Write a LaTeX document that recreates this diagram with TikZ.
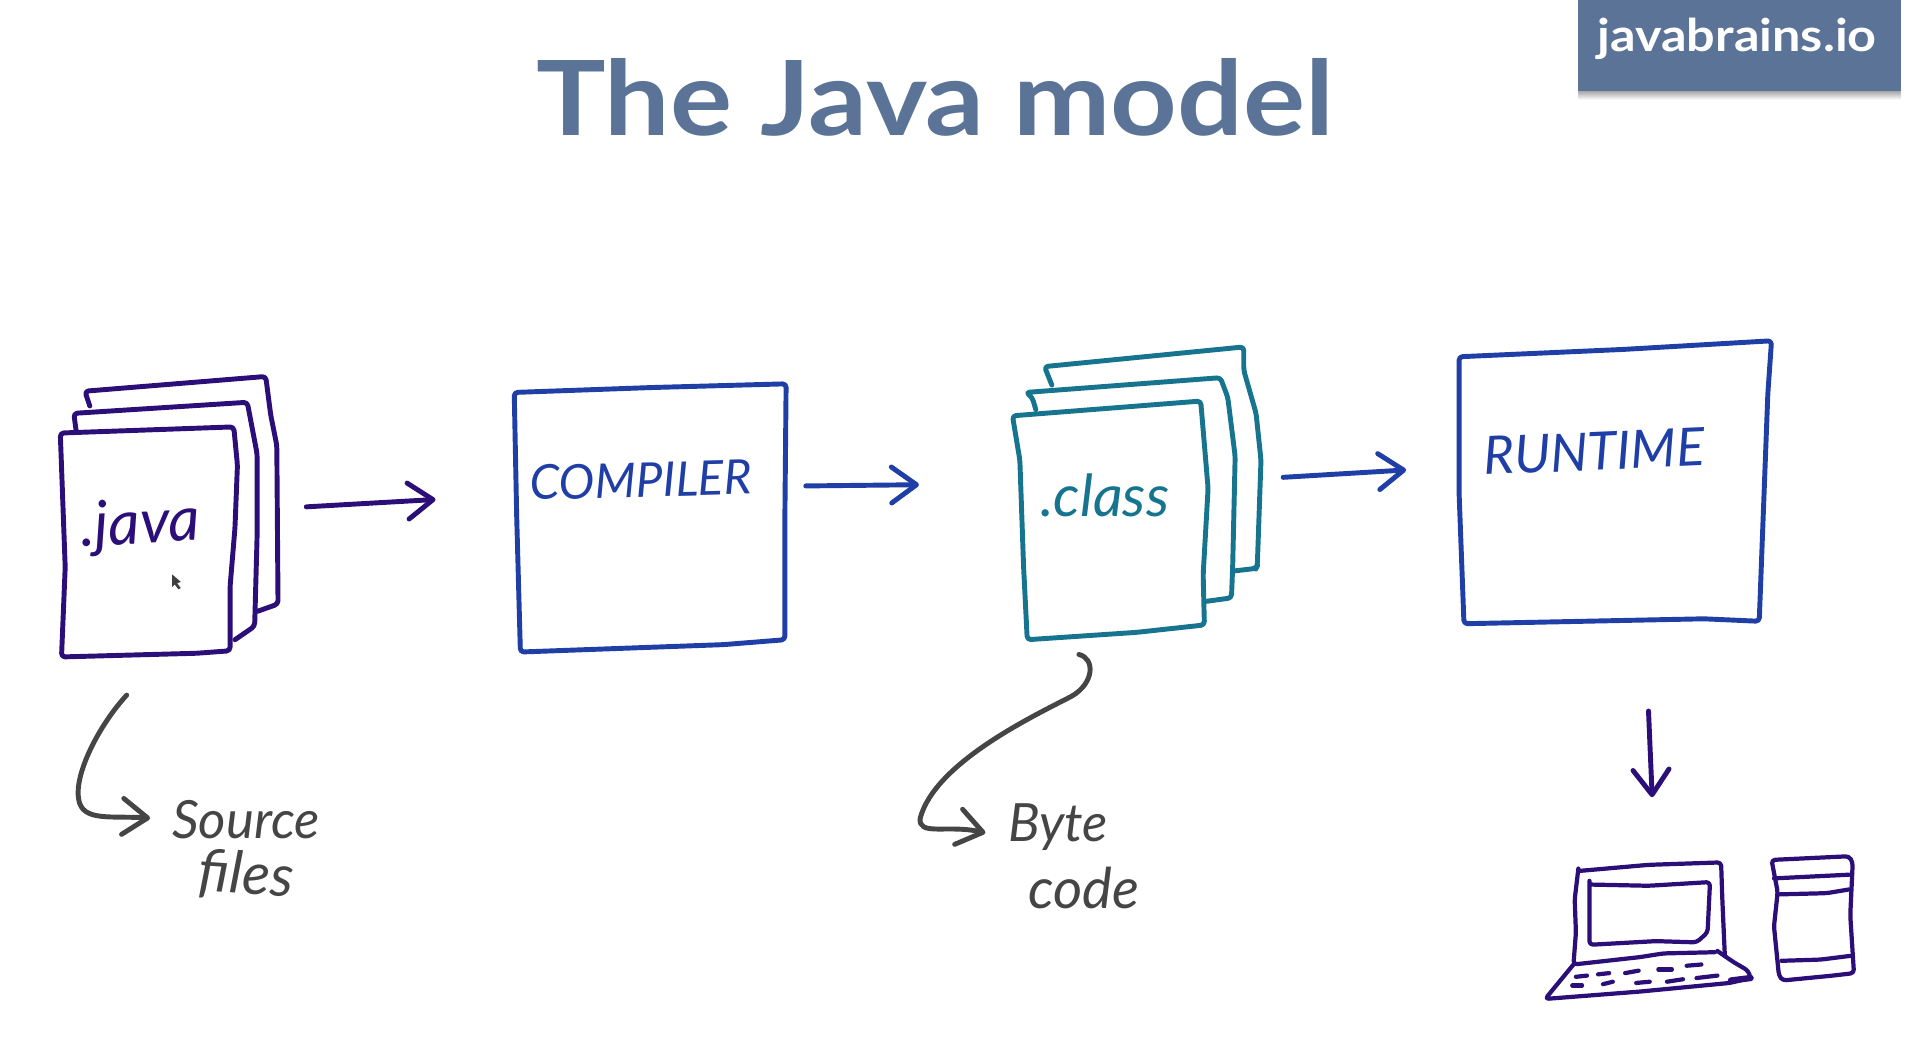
\documentclass[tikz,border=0pt]{standalone}
\usepackage{fontspec}
\setmainfont{Lato}
\newfontfamily\titlefont[FakeStretch=1.12]{Lato}
\usetikzlibrary{positioning,arrows.meta}
\definecolor{slate}{HTML}{5A7396}
\definecolor{inkpurple}{HTML}{2C0E78}
\definecolor{inkblue}{HTML}{1F3EA6}
\definecolor{inkteal}{HTML}{17748F}
\definecolor{inkgrey}{HTML}{454545}
\newcommand{\handfont}[1]{\fontsize{#1}{#1}\selectfont\itshape}
\tikzset{
  ink/.style={line width=1.4pt, line cap=round, line join=round, rounded corners=1pt},
  thin ink/.style={line width=1.2pt, line cap=round, line join=round, rounded corners=1pt},
  arrow ink/.style={ink, rounded corners=0pt, ->, >={Straight Barb[length=2.5mm,width=3.6mm,round]}},
  hand/.style={inner sep=0pt, align=center},
}
\begin{document}
\begin{tikzpicture}[x=0.0123cm, y=-0.0123cm]
\useasboundingbox (0,0) rectangle (1568,847);

% title and badge
\node[font=\titlefont\bfseries\fontsize{29.5}{29.5}\selectfont, text=slate, inner sep=0pt, anchor=base] (title) at (760,110) {The Java model};
\shade[top color=black!35, bottom color=white] (1283,74) rectangle (1545,81);
\fill[slate] (1283,0) rectangle (1545,74);
\node[font=\titlefont\bfseries\fontsize{12.8}{12.8}\selectfont, text=white, inner sep=0pt, anchor=base] (badge) at (1412,42) {javabrains.io};

% java sheets
\draw[ink, inkpurple] (49,352) -- (190,347) -- (193,378) -- (191,429) -- (187,477) -- (187,529) -- (160,531) -- (50,534) -- (53,461) -- cycle;
\draw[ink, inkpurple] (62,351) -- (60,336) -- (201,327) -- (209,369) -- (209,435) -- (207,509) -- (191,520);
\draw[ink, inkpurple] (73,330) -- (69,318) -- (216,306) -- (220,337) -- (225,362) -- (226,491) -- (209,497);
\node[hand, text=inkpurple, font=\handfont{17.5}, rotate=3] (java) at (114,428) {.java};
\fill[black!75] (140,467) -- (140,477) -- (142,475) -- (145,479) -- (147,478) -- (144,474) -- (147,473) -- cycle;

% compiler
\draw[ink, inkblue] (418,319) -- (530,315) -- (639,312) -- (638,420) -- (638,520) -- (588,524) -- (423,530) -- (420,420) -- cycle;
\node[hand, text=inkblue, font=\handfont{13.6}, rotate=1.5] (compiler) at (521,390) {COMPILER};

% class sheets
\draw[ink, inkteal] (823,338) -- (976,326) -- (982,397) -- (978,467) -- (979,508) -- (924,514) -- (835,520) -- (832,460) -- (829,374) -- cycle;
\draw[ink, inkteal] (842,333) -- (839,323) -- (834,319) -- (992,307) -- (998,323) -- (1004,371) -- (1002,460) -- (1001,486) -- (979,489);
\draw[ink, inkteal] (855,313) -- (849,298) -- (1011,282) -- (1011,301) -- (1021,336) -- (1025,374) -- (1022,460) -- (1021,462) -- (1004,464);
\node[hand, text=inkteal, font=\handfont{16.5}] (class) at (898,403) {.class};

% runtime
\draw[ink, inkblue] (1186,290) -- (1320,284) -- (1440,277) -- (1437,320) -- (1430,505) -- (1385,503) -- (1190,507) -- (1186,400) -- cycle;
\node[hand, text=inkblue, font=\handfont{15}, rotate=2.5] (runtime) at (1296,367) {RUNTIME};

% notes
\node[hand, text=inkgrey, font=\handfont{15}] (source) at (200,666) {Source};
\node[hand, text=inkgrey, font=\handfont{16.5}, rotate=-4] (files) at (200,712) {files};
\node[hand, text=inkgrey, font=\handfont{15}] (byte) at (860,672) {Byte};
\node[hand, text=inkgrey, font=\handfont{16}] (code) at (881,722) {code};

% arrow ends
\coordinate (javaout) at (249,412);
\coordinate (compilerin) at (354,406);
\coordinate (compilerout) at (655,395);
\coordinate (classin) at (747,394);
\coordinate (classout) at (1043,388);
\coordinate (runtimein) at (1143,382);
\coordinate (runtimeout) at (1340,578);
\coordinate (laptopin) at (1343,648);
\coordinate (sourcefrom) at (103,565);
\coordinate (sourceto) at (122,665);
\coordinate (bytefrom) at (877,532);
\coordinate (byteto) at (801,677);

\draw[arrow ink, inkpurple] (javaout) -- (compilerin);
\draw[arrow ink, inkblue] (compilerout) -- (classin);
\draw[arrow ink, inkblue] (classout) -- (runtimein);
\draw[arrow ink, inkpurple] (runtimeout) -- (laptopin);
\draw[arrow ink, inkgrey] (sourcefrom) .. controls (80,590) and (60,630) .. (64,650) .. controls (67,668) and (90,663) .. (sourceto);
\draw[arrow ink, inkgrey] (bytefrom) .. controls (890,535) and (890,555) .. (871,566) .. controls (840,582) and (760,620) .. (748,665) .. controls (746,680) and (770,670) .. (byteto);

% laptop
\draw[thin ink, inkpurple] (1283,706) -- (1280,731) -- (1281,758) -- (1279,784) -- (1333,778) -- (1352,775) -- (1394,774);
\draw[thin ink, inkpurple] (1283,708) -- (1340,703) -- (1399,701) -- (1400,731) -- (1402,776);
\draw[thin ink, inkpurple] (1292,716) -- (1292,768) -- (1346,765) -- (1379,766) -- (1388,758) -- (1390,717) -- (1340,720) -- (1292,719);
\draw[thin ink, inkpurple] (1279,784) -- (1256,812) -- (1333,806) -- (1406,799) -- (1423,795) -- (1421,789) -- (1409,782) -- (1396,773);
\draw[thin ink, inkpurple, line width=1.8pt] (1407,797) -- (1423,795);
\foreach \xa/\ya/\xb/\yb in {1281/794/1290/793, 1299/792/1308/791, 1321/791/1332/789, 1348/788/1359/788, 1371/785/1383/784,
    1278/801/1286/801, 1303/800/1311/798, 1330/799/1341/798, 1355/798/1368/796, 1379/795/1396/793}
  \draw[thin ink, inkpurple] (\xa,\ya) -- (\xb,\yb);

% tower
\draw[thin ink, inkpurple] (1440,699) -- (1503,696) -- (1506,701) -- (1504,744) -- (1507,791) -- (1490,793) -- (1449,797) -- (1446,793) -- (1442,753) -- (1445,725) -- cycle;
\draw[thin ink, inkpurple] (1442,714) -- (1503,711);
\draw[thin ink, inkpurple] (1446,727) -- (1485,726) -- (1503,723);
\draw[thin ink, inkpurple] (1448,781) -- (1480,780) -- (1504,777);
\end{tikzpicture}
\end{document}
